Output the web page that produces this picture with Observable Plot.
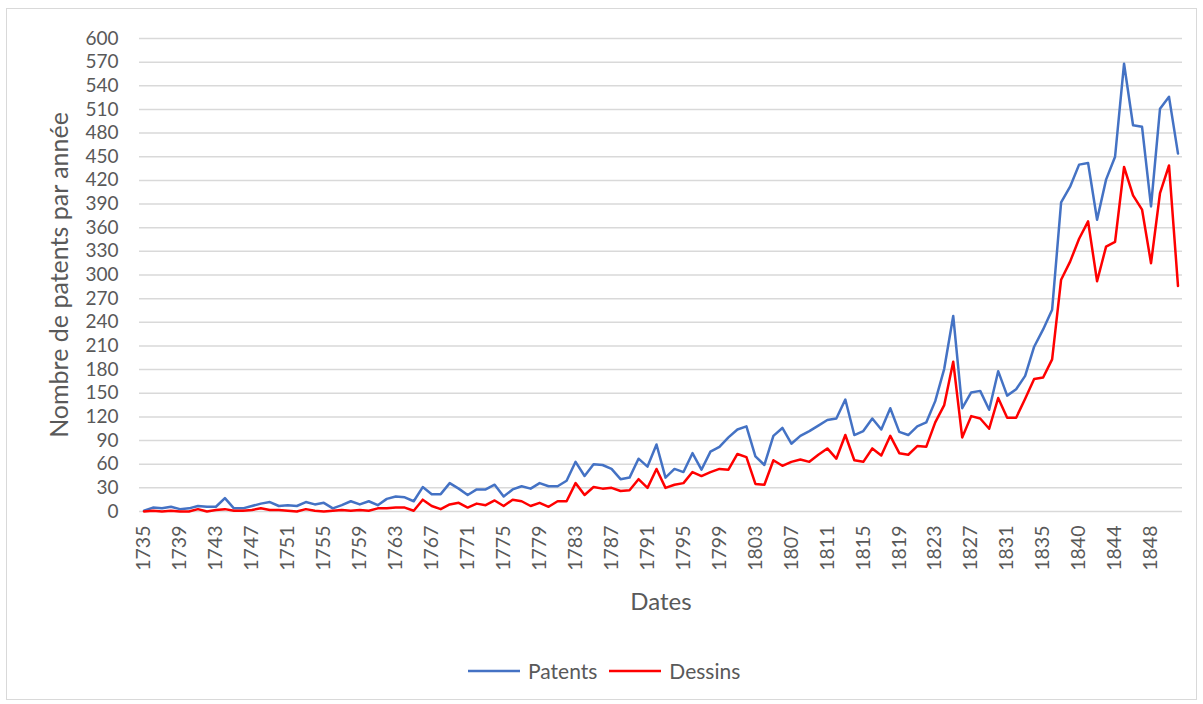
<!DOCTYPE html>
<html><head><meta charset="utf-8">
<script src="https://cdn.jsdelivr.net/npm/d3@7"></script>
<script src="https://cdn.jsdelivr.net/npm/@observablehq/plot@0.6"></script>
<style>
body{margin:0;background:#fff;font-family:Lato,sans-serif;}
#frame{position:absolute;left:6px;top:8px;width:1191px;height:692px;border:1px solid #d9d9d9;box-sizing:border-box;}
#chart{position:absolute;left:0;top:0;}
#legend{position:absolute;left:468px;top:658px;display:flex;align-items:center;font-size:21px;color:#595959;white-space:nowrap;}
#legend .item{display:flex;align-items:center;margin-right:12px;}
#legend svg{margin-right:8px;}
</style></head><body>
<div id="frame"></div><div id="chart"></div><div id="legend"></div>
<script>
const years = [
1735,1736,1737,1738,1739,1740,1741,1742,1743,1744,1745,1746,1747,1748,1749,1750,1751,1752,1753,1754,
1755,1756,1757,1758,1759,1760,1761,1762,1763,1764,1765,1766,1767,1768,1769,1770,1771,1772,1773,1774,
1775,1776,1777,1778,1779,1780,1781,1782,1783,1784,1785,1786,1787,1788,1789,1790,1791,1792,1793,1794,
1795,1796,1797,1798,1799,1800,1801,1802,1803,1804,1805,1806,1807,1808,1809,1810,1811,1812,1813,1814,
1815,1816,1817,1818,1819,1820,1821,1822,1823,1824,1825,1826,1827,1828,1829,1830,1831,1832,1833,1834,
1835,1837,1838,1839,1840,1841,1842,1843,1844,1845,1846,1847,1848,1849,1850,1851];
const patents = [
1,5,4,6,3,4,7,6,6,17,4,4,7,10,12,7,8,7,12,9,
11,4,8,13,9,13,8,16,19,18,13,31,22,22,36,29,21,28,28,34,
19,28,32,29,36,32,32,39,63,45,60,59,54,41,43,67,57,85,43,54,
50,74,53,76,82,94,104,108,70,59,96,106,86,96,102,109,116,118,142,97,
102,118,104,131,101,97,108,113,140,181,248,131,151,153,129,178,147,155,172,209,
231,256,392,412,440,442,370,421,450,568,490,488,387,511,526,454];
const dessins = [
0,1,0,1,0,0,3,0,2,3,1,1,2,4,2,2,1,0,3,1,
0,1,2,1,2,1,4,4,5,5,1,15,7,3,9,11,5,10,8,14,
7,15,13,7,11,6,13,13,36,21,31,29,30,26,27,41,30,54,30,34,
36,50,45,50,54,53,73,69,35,34,65,58,63,66,63,72,80,67,97,65,
63,80,71,96,74,72,83,82,113,135,190,94,121,118,105,144,119,119,143,168,
170,193,294,317,346,368,292,336,342,437,401,383,315,404,439,286];
const xTickLabels = [1735,1739,1743,1747,1751,1755,1759,1763,1767,1771,1775,1779,1783,1787,1791,1795,1799,1803,1807,1811,1815,1819,1823,1827,1831,1835,1840,1844,1848];
const yTicks = [0,30,60,90,120,150,180,210,240,270,300,330,360,390,420,450,480,510,540,570,600];
const seriesNames = ["Patents","Dessins"];
const seriesColors = ["#4472C4","#FF0000"];

const rows = [];
years.forEach((y,i)=>{
  rows.push({year:String(y), value:patents[i], series:"Patents"});
  rows.push({year:String(y), value:dessins[i], series:"Dessins"});
});

const chart = Plot.plot({
  width: 1203, height: 640,
  marginLeft: 139, marginRight: 21, marginTop: 38, marginBottom: 129,
  style: {fontFamily: "Lato, sans-serif", color: "#595959", background: "transparent", overflow: "visible"},
  x: {type: "point", domain: years.map(String), padding: 0.5},
  y: {domain: [0, 600]},
  color: {domain: seriesNames, range: seriesColors},
  marks: [
    Plot.ruleY(yTicks, {stroke: "#d9d9d9", strokeWidth: 1.5}),
    Plot.axisY({ticks: yTicks, tickSize: 0, tickPadding: 21, fontSize: 19, label: null}),
    Plot.axisX({ticks: xTickLabels.map(String), tickSize: 0, tickRotate: -90, tickPadding: 14, fontSize: 19.5, label: null}),
    Plot.text(["Nombre de patents par année"], {frameAnchor: "left", textAnchor: "middle", rotate: -90, dx: -80, fontSize: 25, fill: "#595959"}),
    Plot.text(["Dates"], {frameAnchor: "bottom", dy: 98, fontSize: 24, fill: "#595959"}),
    Plot.line(rows, {x: "year", y: "value", z: "series", stroke: "series", strokeWidth: 2.5})
  ]
});
document.getElementById("chart").appendChild(chart);

const legend = document.getElementById("legend");
seriesNames.forEach((name, i) => {
  const item = document.createElement("div");
  item.className = "item";
  item.innerHTML = `<svg width="52" height="6"><line x1="0" y1="3" x2="52" y2="3" stroke="${seriesColors[i]}" stroke-width="2.5"/></svg><span>${name}</span>`;
  legend.appendChild(item);
});
</script>
</body></html>
